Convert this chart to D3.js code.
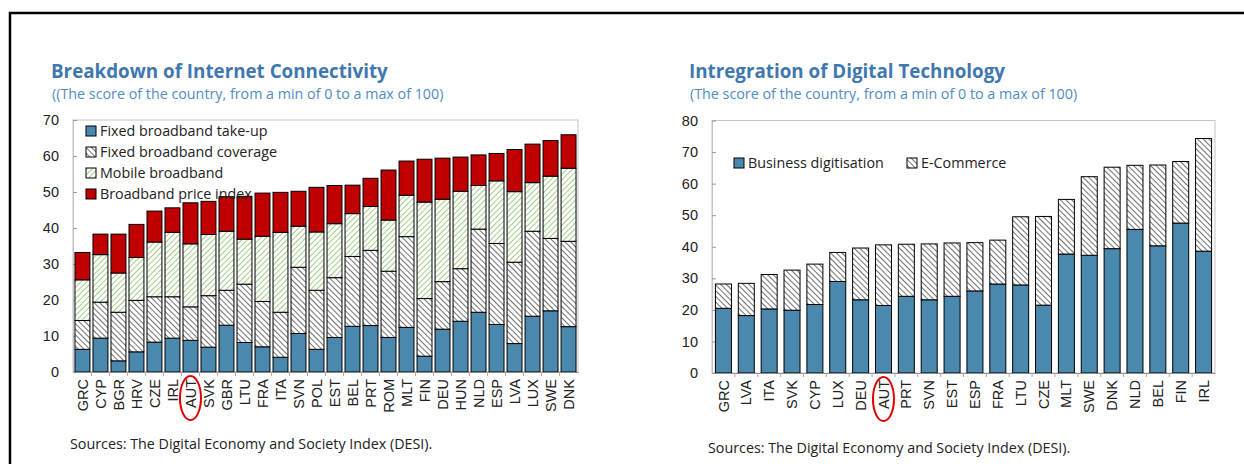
<!DOCTYPE html>
<html>
<head>
<meta charset="utf-8">
<script src="https://cdn.jsdelivr.net/npm/d3@7"></script>
<style>
  body { margin: 0; background: #fff; }
  svg { display: block; font-family: "Open Sans", "Noto Sans", sans-serif; }
</style>
</head>
<body>
<svg id="chart" width="1244" height="464"></svg>
<script>
// left chart data: component scores, in stacking order
var countriesConn = ["GRC","CYP","BGR","HRV","CZE","IRL","AUT","SVK","GBR","LTU","FRA","ITA","SVN","POL","EST","BEL","PRT","ROM","MLT","FIN","DEU","HUN","NLD","ESP","LVA","LUX","SWE","DNK"];
var fixedTakeUp   = [6.3, 9.4, 3.1, 5.6, 8.3, 9.4, 8.8, 6.9,13.0, 8.2, 7.0, 4.1,10.7, 6.3, 9.6,12.7,12.9, 9.6,12.4, 4.4,11.9,14.1,16.6,13.2, 7.9,15.5,17.0,12.6];
var fixedCoverage = [8.0,10.0,13.5,14.3,12.6,11.5, 9.3,14.3, 9.7,16.2,12.6,12.5,18.4,16.4,16.6,19.4,20.9,18.4,25.2,16.0,13.2,14.6,23.1,22.5,22.6,23.6,20.1,23.7];
var mobileBroad   = [11.3,13.2,10.9,11.9,15.2,17.9,17.5,17.0,16.4,12.5,18.1,22.2,11.4,16.2,15.0,11.9,12.2,14.2,11.5,26.8,22.9,21.5,12.1,17.4,19.6,13.5,17.3,20.3];
var priceIndex    = [7.6, 5.7,10.8, 9.2, 8.6, 6.8,11.4, 9.2, 9.6,11.9,12.0,11.1, 9.7,12.4,10.6, 7.9, 7.8,13.9, 9.5,11.9,11.4, 9.5, 8.5, 7.6,11.7,10.7, 9.9, 9.3];
var connSeries = ["Fixed broadband take-up","Fixed broadband coverage","Mobile broadband","Broadband price index"];
var connTicks = [0,10,20,30,40,50,60,70];

// right chart data
var countriesTech = ["GRC","LVA","ITA","SVK","CYP","LUX","DEU","AUT","PRT","SVN","EST","ESP","FRA","LTU","CZE","MLT","SWE","DNK","NLD","BEL","FIN","IRL"];
var businessDigit = [20.5,18.2,20.3,19.9,21.7,29.0,23.2,21.4,24.3,23.2,24.3,26.0,28.2,27.9,21.5,37.7,37.3,39.4,45.5,40.3,47.5,38.6];
var eCommerce     = [7.7,10.2,10.9,12.7,12.8, 9.2,16.4,19.2,16.5,17.7,16.9,15.3,13.9,21.6,28.1,17.3,24.9,25.8,20.3,25.6,19.5,35.7];
var techSeries = ["Business digitisation","E-Commerce"];
var techTicks = [0,10,20,30,40,50,60,70,80];

var svg = d3.select("#chart");
var titleColor = "#3f78ae", subColor = "#4f8cc4", blue = "#4a88ae", red = "#c00000";

// patterns
var defs = svg.append("defs");
function stripes(id, color, dir, w) {
  var p = defs.append("pattern").attr("id", id)
    .attr("patternUnits", "userSpaceOnUse").attr("width", 4).attr("height", 4)
    .attr("patternTransform", "rotate(" + dir + ")");
  p.append("rect").attr("width", 4).attr("height", 4).attr("fill", "#fff");
  p.append("line").attr("x1", 0).attr("y1", 0).attr("x2", 0).attr("y2", 4)
    .attr("stroke", color).attr("stroke-width", w);
}
stripes("hatchDark", "#4d4d4d", -45, 1.6);
stripes("hatchGreen", "#98c67c", 45, 1.8);

// outer frame
svg.append("path").attr("d", "M10,464 V13 H1244")
  .attr("fill", "none").attr("stroke", "#000").attr("stroke-width", 2.5);

function drawPanel(o) {
  var g = svg.append("g");
  var x = d3.scaleBand().domain(o.cats).range([o.x0, o.x1])
    .paddingInner(o.padIn).paddingOuter(o.padOut);
  var y = d3.scaleLinear().domain([0, o.max]).range([o.y0, o.y1]);

  // titles
  g.append("text").attr("x", o.tx).attr("y", 78).text(o.title)
    .attr("font-size", 18.8).attr("font-weight", "bold").attr("fill", titleColor);
  g.append("text").attr("x", o.tx + 1).attr("y", 99).text(o.subtitle)
    .attr("font-size", 14.3).attr("fill", subColor);

  // plot box
  g.append("rect").attr("x", o.x0).attr("y", o.y1)
    .attr("width", o.x1 - o.x0).attr("height", o.y0 - o.y1)
    .attr("fill", "none").attr("stroke", "#c4c4c4").attr("stroke-width", 1);

  // y axis
  var ya = g.append("g").attr("transform", "translate(" + o.x0 + ",0)")
    .call(d3.axisRight(y).tickValues(o.ticks).tickSize(4).tickFormat(d3.format("d")));
  ya.select(".domain").attr("stroke", "#c4c4c4");
  ya.selectAll(".tick line").attr("stroke", "#999");
  ya.selectAll(".tick text").attr("x", -14).attr("text-anchor", "end")
    .attr("font-size", 14.5).attr("fill", "#222").attr("font-family", null);

  // stacked bars
  var rows = o.cats.map(function(c, i) {
    var r = {cat: c};
    o.keys.forEach(function(k, j) { r[k] = o.values[j][i]; });
    return r;
  });
  var stack = d3.stack().keys(o.keys)(rows);
  stack.forEach(function(layer, j) {
    g.append("g").selectAll("rect").data(layer).enter().append("rect")
      .attr("x", function(d) { return x(d.data.cat); })
      .attr("width", x.bandwidth())
      .attr("y", function(d) { return y(d[1]); })
      .attr("height", function(d) { return y(d[0]) - y(d[1]); })
      .attr("fill", o.fills[j]).attr("stroke", "#000").attr("stroke-width", 1);
  });

  // x axis
  var xa = g.append("g").attr("transform", "translate(0," + o.y0 + ")")
    .call(d3.axisBottom(x).tickSize(0).tickPadding(0));
  xa.select(".domain").attr("stroke", "#8c8c8c");
  xa.selectAll(".tick text").attr("transform", "rotate(-90)")
    .attr("x", -7).attr("y", 0).attr("dy", "0.35em").attr("text-anchor", "end")
    .attr("font-size", 14.5).attr("fill", "#222").attr("font-family", null);
  g.append("g").selectAll("line").data(o.cats.slice(1)).enter().append("line")
    .attr("x1", function(d) { return x(d) - x.step() * x.paddingInner() / 2; })
    .attr("x2", function(d) { return x(d) - x.step() * x.paddingInner() / 2; })
    .attr("y1", o.y0).attr("y2", o.y0 + 4).attr("stroke", "#aaa");

  // legend
  var lg = g.append("g");
  o.keys.forEach(function(k, j) {
    var lx = o.legend[j][0], ly = o.legend[j][1];
    lg.append("rect").attr("x", lx).attr("y", ly - 5).attr("width", 10).attr("height", 10)
      .attr("fill", o.fills[j]).attr("stroke", "#000").attr("stroke-width", 1);
    lg.append("text").attr("x", lx + 14).attr("y", ly).attr("dy", "0.35em")
      .attr("font-size", 14.3).attr("fill", "#222").text(k);
  });

  // AUT highlight
  var cx = x("AUT") + x.bandwidth() / 2;
  g.append("ellipse").attr("cx", cx).attr("cy", o.y0 + 26).attr("rx", 10.5).attr("ry", 22)
    .attr("fill", "none").attr("stroke", "#e00000").attr("stroke-width", 2);

  // source note
  g.append("text").attr("x", o.sx).attr("y", o.sy).text("Sources: The Digital Economy and Society Index (DESI).")
    .attr("font-size", 14.3).attr("fill", "#222");
}

drawPanel({
  cats: countriesConn, keys: connSeries,
  values: [fixedTakeUp, fixedCoverage, mobileBroad, priceIndex],
  fills: [blue, "url(#hatchDark)", "url(#hatchGreen)", red],
  x0: 73, x1: 578, y0: 372, y1: 120, max: 70, ticks: connTicks,
  padIn: 0.17, padOut: 0.11,
  title: "Breakdown of Internet Connectivity",
  subtitle: "((The score of the country, from a min of 0 to a max of 100)",
  tx: 51,
  legend: [[86, 131], [86, 152], [86, 173], [86, 194]],
  sx: 70, sy: 449
});

drawPanel({
  cats: countriesTech, keys: techSeries,
  values: [businessDigit, eCommerce],
  fills: [blue, "url(#hatchDark)"],
  x0: 712, x1: 1215, y0: 373, y1: 120.5, max: 80, ticks: techTicks,
  padIn: 0.3, padOut: 0.15,
  title: "Intregration of Digital Technology",
  subtitle: "(The score of the country, from a min of 0 to a max of 100)",
  tx: 689,
  legend: [[734, 163], [907, 163]],
  sx: 708, sy: 453
});
</script>
</body>
</html>
